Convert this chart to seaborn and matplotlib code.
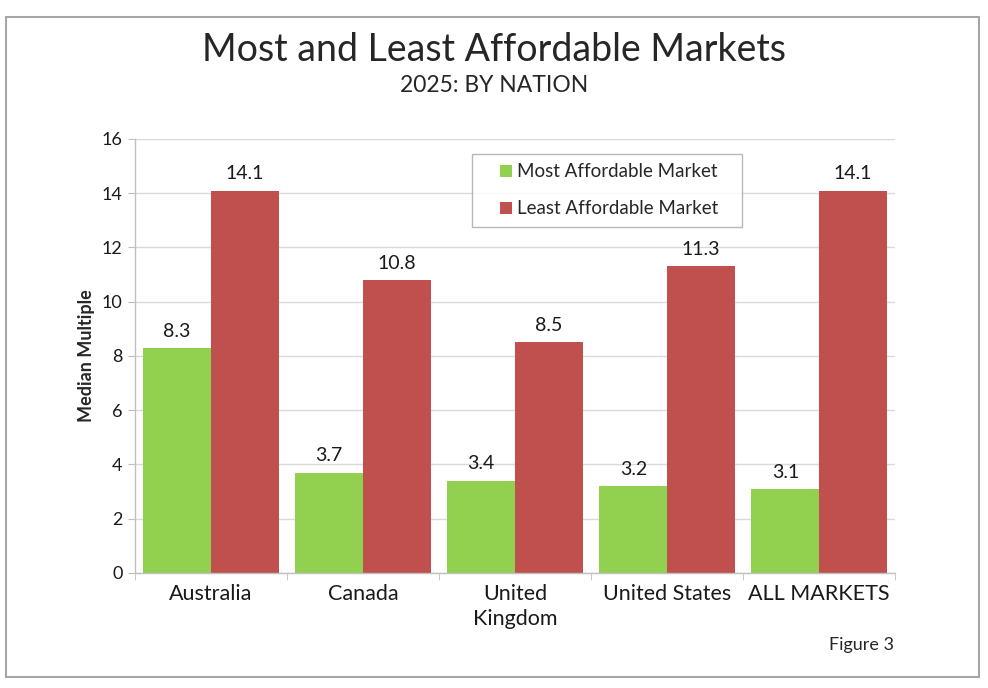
import matplotlib
matplotlib.use("Agg")
import matplotlib.pyplot as plt
import pandas as pd
import seaborn as sns
from matplotlib.legend_handler import HandlerPatch
from matplotlib.patches import Rectangle
from matplotlib.path import Path
from matplotlib.ticker import FixedLocator

# Data
nations = ["Australia", "Canada", "United\nKingdom", "United States", "ALL MARKETS"]
most_affordable = [8.3, 3.7, 3.4, 3.2, 3.1]
least_affordable = [14.1, 10.8, 8.5, 11.3, 14.1]
series_names = ["Most Affordable Market", "Least Affordable Market"]
y_ticks = [0, 2, 4, 6, 8, 10, 12, 14, 16]

df = pd.concat([
    pd.DataFrame({"nation": nations, "value": most_affordable, "series": series_names[0]}),
    pd.DataFrame({"nation": nations, "value": least_affordable, "series": series_names[1]}),
])


def small_square(legend, orig_handle, xdescent, ydescent, width, height, fontsize):
    # small square swatch sitting at the right end of the handle area
    s = 9
    return Rectangle((width - s - xdescent, (height - s) / 2 - ydescent), s, s)


def wide_box(x0, y0, width, height, mutation_size):
    # legend frame with extra horizontal padding only
    px = 14
    x0 -= px
    width += 2 * px
    return Path([(x0, y0), (x0 + width, y0), (x0 + width, y0 + height),
                 (x0, y0 + height), (x0, y0)], closed=True)


sns.set_style("white")
plt.rcParams["font.family"] = ["Lato", "DejaVu Sans"]

fig = plt.figure(figsize=(9.88, 6.88), dpi=100)
ax = fig.add_axes([0.1366, 0.1672, 0.7694, 0.6308])

sns.barplot(data=df, x="nation", y="value", hue="series", palette=["#92D050", "#C0504D"],
            width=0.89, gap=0, saturation=1, linewidth=0, ax=ax, errorbar=None)

for container in ax.containers:
    ax.bar_label(container, fmt="%.1f", padding=6, fontsize=14, color="#1a1a1a")

ax.set_ylim(0, 16)
ax.set_xlim(-0.5, len(nations) - 0.5)
ax.set_yticks(y_ticks)
ax.yaxis.grid(True, color="#d9d9d9", linewidth=1)
ax.set_axisbelow(True)
for side in ["top", "right"]:
    ax.spines[side].set_visible(False)
for side in ["left", "bottom"]:
    ax.spines[side].set_color("#bfbfbf")
    ax.spines[side].set_linewidth(1)

ax.tick_params(axis="y", labelsize=13, length=5, color="#bfbfbf", left=True, pad=4,
               labelcolor="#1a1a1a")
ax.tick_params(axis="x", labelsize=15.5, length=0, pad=8, labelcolor="#1a1a1a")
for lbl in ax.get_xticklabels():
    lbl.set_linespacing(1.3)
ax.xaxis.set_minor_locator(FixedLocator([i - 0.5 for i in range(len(nations) + 1)]))
ax.tick_params(axis="x", which="minor", length=5, color="#bfbfbf", bottom=True)

ax.set_xlabel("")
ax.set_ylabel("Median Multiple", fontsize=13, fontweight="bold", labelpad=5)

leg = ax.legend(loc="upper left", bbox_to_anchor=(0.462, 0.9654), fontsize=13.5,
                frameon=True, fancybox=False, edgecolor="#a6a6a6", handlelength=0.9,
                handleheight=0.6, handletextpad=0.25, borderpad=0.5, labelspacing=1.07,
                borderaxespad=0, handler_map={Rectangle: HandlerPatch(patch_func=small_square)})
leg.get_frame().set_linewidth(1)
leg.get_frame().set_boxstyle(wide_box)

fig.text(0.5, 0.928, "Most and Least Affordable Markets", ha="center", va="center", fontsize=27)
fig.text(0.5, 0.876, "2025: BY NATION", ha="center", va="center", fontsize=16.5)
fig.text(0.905, 0.062, "Figure 3", ha="right", va="center", fontsize=13)

fig.patches.append(Rectangle((0.006, 0.016), 0.985, 0.96, transform=fig.transFigure,
                             fill=False, edgecolor="#a6a6a6", linewidth=1.5))

fig.savefig("out.png", dpi=100)
